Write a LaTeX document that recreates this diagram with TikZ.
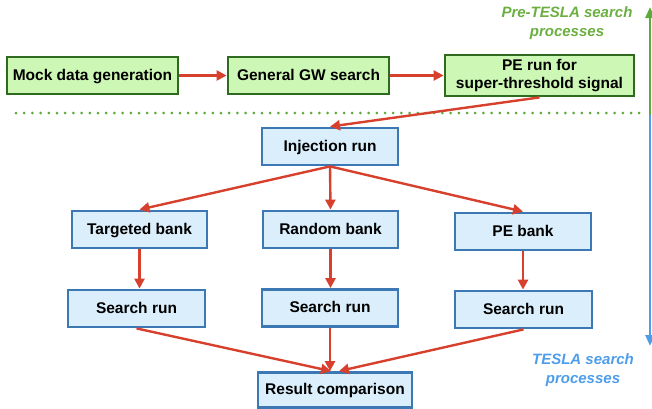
\documentclass[tikz,border=0pt]{standalone}
\usepackage{fontspec}
\setmainfont{Liberation Sans}
\usetikzlibrary{arrows.meta}
\definecolor{gfill}{HTML}{CDF7B4}
\definecolor{gdraw}{HTML}{2F6B1E}
\definecolor{bfill}{HTML}{DAEEFB}
\definecolor{bdraw}{HTML}{3B78B4}
\definecolor{arr}{HTML}{D7402C}
\definecolor{gtext}{HTML}{6AAF3F}
\definecolor{btext}{HTML}{4D9DEB}
\definecolor{gdot}{HTML}{5DAA3C}
\begin{document}
\begin{tikzpicture}[x=1pt,y=-1pt,
  box/.style={draw, line width=2.8pt, inner sep=0pt, align=center,
    text height=11.5pt, text depth=2.5pt,
    font=\fontsize{15.5}{18}\selectfont\bfseries},
  gbox/.style={box, fill=gfill, draw=gdraw},
  bbox/.style={box, fill=bfill, draw=bdraw},
  flow/.style={draw=arr, line width=2.4pt, -{Triangle[length=10pt,width=10pt]}},
  side/.style={font=\fontsize{15}{18.5}\selectfont\bfseries\itshape, align=center}]
\useasboundingbox (0,0) rectangle (652,408);
% top row
\node[gbox, minimum width=171pt, minimum height=37pt] (mock) at (92.5,75.5) {Mock data generation};
\node[gbox, minimum width=161pt, minimum height=37pt] (gw) at (308.5,75.5) {General GW search};
\node[gbox, text height=, text depth=, minimum width=189pt, minimum height=41pt] (pe) at (539.5,75.5) {PE run for\\super-threshold signal};
% lower part
\node[bbox, minimum width=136pt, minimum height=37pt] (inj) at (330,146.5) {Injection run};
\node[bbox, minimum width=135pt, minimum height=37pt] (tb) at (139.5,229.5) {Targeted bank};
\node[bbox, minimum width=135pt, minimum height=37pt] (rb) at (330.5,229.5) {Random bank};
\node[bbox, minimum width=136pt, minimum height=37pt] (pb) at (523,231.5) {PE bank};
\node[bbox, minimum width=137pt, minimum height=37pt] (s1) at (136.5,308.5) {Search run};
\node[bbox, minimum width=136pt, minimum height=37pt] (s2) at (330,308) {Search run};
\node[bbox, minimum width=137pt, minimum height=37pt] (s3) at (523.5,309.5) {Search run};
\node[bbox, minimum width=154pt, minimum height=35pt] (res) at (335,390) {Result comparison};
% separator
\coordinate (dl) at (16,113);
\coordinate (dr) at (646,113);
\draw[gdot, line width=3pt, line cap=round, dash pattern=on 0pt off 8.2pt] (dl) -- (dr);
% side arrow
\coordinate (mid) at (650,115);
\coordinate (top) at (650,7);
\coordinate (bot) at (650,346);
\draw[gdot, line width=2.4pt, -{Triangle[length=11pt,width=9pt]}] (mid) -- (top);
\draw[btext, line width=2.4pt, -{Triangle[length=11pt,width=9pt]}] (mid) -- (bot);
\node[side, text=gtext] (pre) at (567,23) {Pre-TESLA search\\processes};
\node[side, text=btext] (tes) at (583,370) {TESLA search\\processes};
% arrows
\draw[flow] (mock) -- (gw);
\draw[flow] (gw) -- (pe);
\draw[flow] (pe.south) -- (inj.north);
\draw[flow] (inj.south) -- (tb.north);
\draw[flow] (inj.south) -- (rb.north);
\draw[flow] (inj.south) -- (pb.north);
\draw[flow] (tb.south) -- (tb.south |- s1.north);
\draw[flow] (rb.south) -- (rb.south |- s2.north);
\draw[flow] (pb.south) -- (pb.south |- s3.north);
\draw[flow] (s1.south) -- ([xshift=-4pt]res.north);
\draw[flow] (s2.south) -- (s2.south |- res.north);
\draw[flow] (s3.south) -- ([xshift=4pt]res.north);
\end{tikzpicture}
\end{document}
